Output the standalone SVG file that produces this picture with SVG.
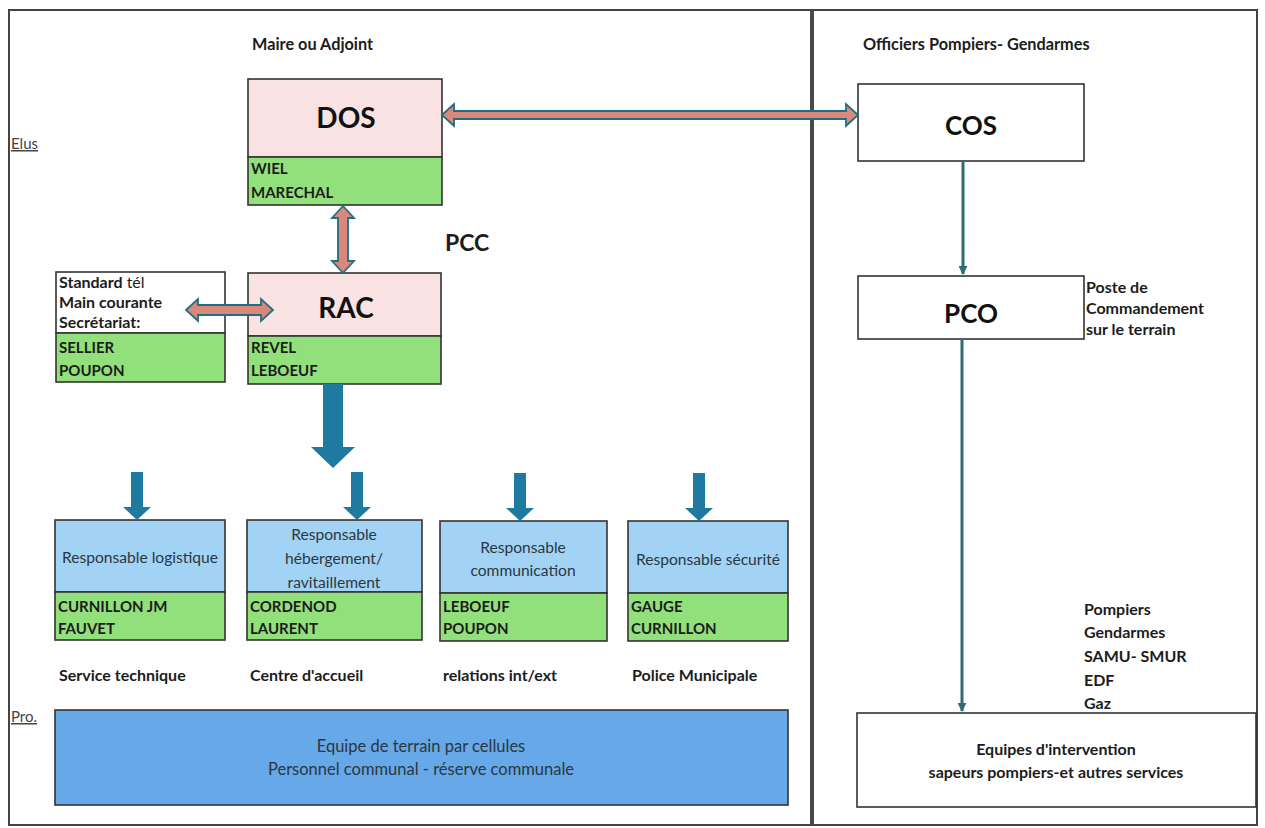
<svg xmlns="http://www.w3.org/2000/svg" width="1265" height="828" viewBox="0 0 1265 828">
<style>
text{font-family:Lato,"Liberation Sans",sans-serif;fill:#1c1c1c}
.box{stroke:#333;stroke-width:1.6}
.pink{fill:#f9e2e2}
.green{fill:#92e07c}
.lblue{fill:#a2d3f4}
.white{fill:#fff}
.big{font-size:28px;font-weight:700;text-anchor:middle;fill:#111}
.lbl{font-size:16px;font-weight:700}
.hdr{font-size:16.3px;font-weight:700}
.name{font-size:15px;font-weight:700}
.resp{font-size:15.6px;text-anchor:middle;fill:#2b3742}
.under{font-size:15px;text-decoration:underline;fill:#444}
.parrow{fill:#d9887a;stroke:#1f6e85;stroke-width:1.8}
.barrow{fill:#1f7aa2}
.thin{stroke:#2f6d74;stroke-width:3;fill:none}
</style>
<defs>
<marker id="ah" viewBox="0 0 10 10" refX="9" refY="5" markerWidth="3" markerHeight="3" orient="auto"><path d="M0,0 L10,5 L0,10 z" fill="#2f6d74"/></marker>
</defs>
<rect width="1265" height="828" fill="#fff"/>
<g id="frame">
<rect x="9" y="10" width="1248" height="815" fill="none" stroke="#444" stroke-width="2"/>
<line x1="812" y1="10" x2="812" y2="825" stroke="#4a4a4a" stroke-width="4"/>
</g>
<g id="headers">
<text class="hdr" x="252" y="50">Maire ou Adjoint</text>
<text class="hdr" x="863" y="50">Officiers Pompiers- Gendarmes</text>
<text class="under" x="11" y="149">Elus</text>
<text class="under" x="11" y="722">Pro.</text>
<text x="445" y="251" style="font-size:23px;font-weight:700">PCC</text>
</g>
<g id="dos">
<rect class="box pink" x="248" y="79" width="194" height="78"/>
<rect class="box green" x="248" y="157" width="194" height="48"/>
<text class="big" x="346" y="128">DOS</text>
<text class="name" x="251" y="174">WIEL</text>
<text class="name" x="251" y="198">MARECHAL</text>
</g>
<g id="cos">
<rect class="box white" x="858" y="84" width="226" height="77"/>
<text class="big" x="971" y="135" style="font-size:26px">COS</text>
</g>
<g id="rac">
<rect class="box pink" x="248" y="273" width="193" height="63"/>
<rect class="box green" x="248" y="336" width="193" height="48"/>
<text class="big" x="346" y="318">RAC</text>
<text class="name" x="251" y="353">REVEL</text>
<text class="name" x="251" y="376">LEBOEUF</text>
</g>
<g id="standard">
<rect class="box white" x="56" y="272" width="169" height="61"/>
<rect class="box green" x="56" y="333" width="169" height="49"/>
<text class="lbl" x="59" y="288">Standard<tspan style="font-weight:400"> tél</tspan></text>
<text class="lbl" x="59" y="308">Main courante</text>
<text class="lbl" x="59" y="328">Secrétariat:</text>
<text class="name" x="59" y="353">SELLIER</text>
<text class="name" x="59" y="376">POUPON</text>
</g>
<g id="pco">
<rect class="box white" x="858" y="276" width="226" height="63"/>
<text class="big" x="971" y="323" style="font-size:26px">PCO</text>
<text class="lbl" x="1086" y="293">Poste de</text>
<text class="lbl" x="1086" y="314">Commandement</text>
<text class="lbl" x="1086" y="335">sur le terrain</text>
</g>
<g id="logistique">
<rect class="box lblue" x="55" y="520" width="170" height="72"/>
<rect class="box green" x="55" y="592" width="170" height="48"/>
<text class="resp" x="140" y="563">Responsable logistique</text>
<text class="name" x="58" y="612">CURNILLON JM</text>
<text class="name" x="58" y="634">FAUVET</text>
<text class="lbl" x="59" y="681">Service technique</text>
</g>
<g id="hebergement">
<rect class="box lblue" x="247" y="520" width="175" height="72"/>
<rect class="box green" x="247" y="592" width="175" height="48"/>
<text class="resp" x="334" y="540">Responsable</text>
<text class="resp" x="334" y="564">hébergement/</text>
<text class="resp" x="334" y="588">ravitaillement</text>
<text class="name" x="250" y="612">CORDENOD</text>
<text class="name" x="250" y="634">LAURENT</text>
<text class="lbl" x="250" y="681">Centre d'accueil</text>
</g>
<g id="communication">
<rect class="box lblue" x="440" y="521" width="167" height="72"/>
<rect class="box green" x="440" y="593" width="167" height="48"/>
<text class="resp" x="523" y="553">Responsable</text>
<text class="resp" x="523" y="576">communication</text>
<text class="name" x="443" y="612">LEBOEUF</text>
<text class="name" x="443" y="634">POUPON</text>
<text class="lbl" x="443" y="681">relations int/ext</text>
</g>
<g id="securite">
<rect class="box lblue" x="628" y="521" width="160" height="72"/>
<rect class="box green" x="628" y="593" width="160" height="48"/>
<text class="resp" x="708" y="565">Responsable sécurité</text>
<text class="name" x="631" y="612">GAUGE</text>
<text class="name" x="631" y="634">CURNILLON</text>
<text class="lbl" x="632" y="681">Police Municipale</text>
</g>
<g id="equipe-terrain">
<rect class="box" x="55" y="710" width="733" height="95" fill="#66a8e8"/>
<text class="resp" x="421" y="752" style="font-size:16.5px">Equipe de terrain par cellules</text>
<text class="resp" x="421" y="775" style="font-size:16.5px">Personnel communal - réserve communale</text>
</g>
<g id="services">
<text class="lbl" x="1084" y="615">Pompiers</text>
<text class="lbl" x="1084" y="638">Gendarmes</text>
<text class="lbl" x="1084" y="662">SAMU- SMUR</text>
<text class="lbl" x="1084" y="686">EDF</text>
<text class="lbl" x="1084" y="709">Gaz</text>
</g>
<g id="equipes-intervention">
<rect class="box white" x="857" y="713" width="399" height="94"/>
<text class="lbl" x="1056" y="755" text-anchor="middle">Equipes d'intervention</text>
<text class="lbl" x="1056" y="778" text-anchor="middle">sapeurs pompiers-et autres services</text>
</g>
<g id="connectors">
<polygon class="parrow" points="442,115 454,104 454,111 846,111 846,104 858,115 846,126 846,119 454,119 454,126"/>
<polygon class="parrow" points="343,206 354,218 348,218 348,261 354,261 343,273 332,261 338,261 338,218 332,218"/>
<polygon class="parrow" points="186,310 198,299 198,305 261,305 261,299 273,310 261,321 261,315 198,315 198,321"/>
<polygon class="barrow" points="323,384 343,384 343,447 355,447 333,468 311,447 323,447"/>
<polygon class="barrow" points="131,472 143,472 143,507 151,507 137,520 123,507 131,507"/>
<polygon class="barrow" points="351,472 363,472 363,507 371,507 357,520 343,507 351,507"/>
<polygon class="barrow" points="514,473 526,473 526,508 534,508 520,521 506,508 514,508"/>
<polygon class="barrow" points="693,473 705,473 705,508 713,508 699,521 685,508 693,508"/>
<line class="thin" x1="963" y1="161" x2="963" y2="274" marker-end="url(#ah)"/>
<line class="thin" x1="962" y1="339" x2="962" y2="711" marker-end="url(#ah)"/>
</g>
</svg>
